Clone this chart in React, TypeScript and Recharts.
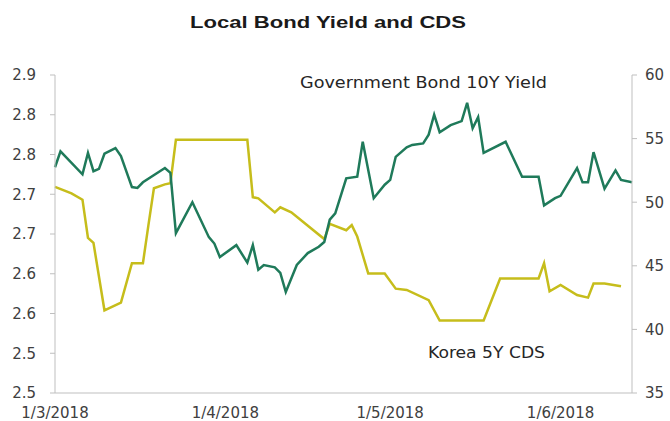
import React from 'react';
import { LineChart, Line, XAxis, YAxis } from 'recharts';

// Government bond 10Y yield (left axis, %)
const yieldDates = [
  '2018-03-01', '2018-03-02', '2018-03-06', '2018-03-07', '2018-03-08', '2018-03-09', '2018-03-10',
  '2018-03-12', '2018-03-13', '2018-03-15', '2018-03-16', '2018-03-17', '2018-03-21', '2018-03-22',
  '2018-03-23', '2018-03-26', '2018-03-29', '2018-03-30', '2018-03-31', '2018-04-03', '2018-04-05',
  '2018-04-06', '2018-04-07', '2018-04-08', '2018-04-10', '2018-04-11', '2018-04-12', '2018-04-14',
  '2018-04-16', '2018-04-18', '2018-04-19', '2018-04-20', '2018-04-21', '2018-04-23', '2018-04-25',
  '2018-04-26', '2018-04-28', '2018-04-30', '2018-05-01', '2018-05-02', '2018-05-04', '2018-05-05',
  '2018-05-07', '2018-05-08', '2018-05-09', '2018-05-10', '2018-05-12', '2018-05-14', '2018-05-15',
  '2018-05-16', '2018-05-17', '2018-05-18', '2018-05-22', '2018-05-25', '2018-05-28', '2018-05-29',
  '2018-05-31', '2018-06-01', '2018-06-04', '2018-06-05', '2018-06-06', '2018-06-07', '2018-06-09',
  '2018-06-11', '2018-06-12', '2018-06-14',
];
const yieldValues = [
  2.784, 2.804, 2.775, 2.802, 2.779, 2.782, 2.801,
  2.808, 2.798, 2.759, 2.758, 2.765, 2.783, 2.777,
  2.701, 2.74, 2.696, 2.688, 2.671, 2.686, 2.664,
  2.686, 2.655, 2.661, 2.658, 2.651, 2.627, 2.661,
  2.676, 2.684, 2.69, 2.718, 2.726, 2.77, 2.772,
  2.816, 2.745, 2.762, 2.768, 2.797, 2.809, 2.812,
  2.814, 2.825, 2.85, 2.828, 2.837, 2.842, 2.865,
  2.833, 2.847, 2.802, 2.816, 2.772, 2.772, 2.736,
  2.745, 2.748, 2.783, 2.765, 2.765, 2.803, 2.757,
  2.78, 2.768, 2.765,
];

// Korea 5Y CDS (right axis, bp)
const cdsDates = [
  '2018-03-01', '2018-03-04', '2018-03-06', '2018-03-07', '2018-03-08', '2018-03-10', '2018-03-13',
  '2018-03-15', '2018-03-17', '2018-03-18', '2018-03-19', '2018-03-21', '2018-03-22', '2018-03-23',
  '2018-04-05', '2018-04-06', '2018-04-07', '2018-04-10', '2018-04-11', '2018-04-13', '2018-04-19',
  '2018-04-20', '2018-04-23', '2018-04-24', '2018-04-25', '2018-04-27', '2018-04-30', '2018-05-02',
  '2018-05-04', '2018-05-08', '2018-05-10', '2018-05-18', '2018-05-21', '2018-05-28', '2018-05-29',
  '2018-05-30', '2018-06-01', '2018-06-04', '2018-06-06', '2018-06-07', '2018-06-09', '2018-06-12',
];
const cdsValues = [
  51.2, 50.7, 50.2, 47.2, 46.8, 41.5, 42.1,
  45.2, 45.2, 48.2, 51.1, 51.4, 51.5, 54.9,
  54.9, 50.4, 50.3, 49.2, 49.6, 49.2, 47.1,
  48.3, 47.8, 48.2, 47.3, 44.4, 44.4, 43.2,
  43.1, 42.3, 40.7, 40.7, 44.0, 44.0, 45.2,
  43.0, 43.5, 42.7, 42.5, 43.6, 43.6, 43.4,
];

const xTickDays = [0, 31, 61, 92];
const xTickLabels = ['1/3/2018', '1/4/2018', '1/5/2018', '1/6/2018'];
const leftTicks = [2.5, 2.55, 2.6, 2.65, 2.7, 2.75, 2.8, 2.85, 2.9];
const leftTickLabels = ['2.5', '2.5', '2.6', '2.6', '2.7', '2.7', '2.8', '2.8', '2.9'];
const rightTicks = [35, 40, 45, 50, 55, 60];

const START = Date.parse('2018-03-01');
const toDay = (d: string) => (Date.parse(d) - START) / 86400000;

const yieldData = yieldDates.map((d, i) => ({ day: toDay(d), value: yieldValues[i] }));
const cdsData = cdsDates.map((d, i) => ({ day: toDay(d), value: cdsValues[i] }));

const GREEN = '#1f7a5a';
const YELLOW = '#c6bd1b';
const AXIS = '#bfbfbf';
const tickStyle = { fontFamily: 'DejaVu Sans, sans-serif', fontSize: 15, fill: '#404040' };

const App = () => (
  <div style={{ position: 'absolute', left: 0, top: 0, width: 670, height: 421, background: '#fff' }}>
    <LineChart width={670} height={421} margin={{ top: 75, right: 8, bottom: 0, left: 10 }}>
      <XAxis
        type="number"
        dataKey="day"
        domain={[0, 105]}
        ticks={xTickDays}
        tickFormatter={(v, i) => xTickLabels[i]}
        axisLine={{ stroke: AXIS }}
        tickLine={false}
        tickSize={0}
        tickMargin={14}
        height={28}
        tick={tickStyle}
        interval={0}
      />
      <YAxis
        yAxisId="left"
        domain={[2.5, 2.9]}
        ticks={leftTicks}
        tickFormatter={(v, i) => leftTickLabels[i]}
        axisLine={{ stroke: AXIS }}
        tickLine={{ stroke: AXIS }}
        tickSize={5}
        tickMargin={14}
        width={45}
        tick={tickStyle}
        interval={0}
      />
      <YAxis
        yAxisId="right"
        orientation="right"
        domain={[35, 60]}
        ticks={rightTicks}
        axisLine={{ stroke: AXIS }}
        tickLine={{ stroke: AXIS }}
        tickSize={5}
        tickMargin={8}
        width={30}
        tick={{ ...tickStyle, textAnchor: 'start' }}
        interval={0}
      />
      <Line
        yAxisId="right"
        data={cdsData}
        dataKey="value"
        stroke={YELLOW}
        strokeWidth={2.5}
        dot={false}
        isAnimationActive={false}
      />
      <Line
        yAxisId="left"
        data={yieldData}
        dataKey="value"
        stroke={GREEN}
        strokeWidth={2.5}
        dot={false}
        isAnimationActive={false}
      />
    </LineChart>
    <svg width={670} height={421} style={{ position: 'absolute', left: 0, top: 0, pointerEvents: 'none' }}>
      <text
        x={190}
        y={28}
        fontFamily="Liberation Sans, Arial, sans-serif"
        fontWeight="bold"
        fontSize={17}
        fill="#1a1a1a"
        textLength={276}
        lengthAdjust="spacingAndGlyphs"
      >
        Local Bond Yield and CDS
      </text>
      <text
        x={300}
        y={88}
        fontFamily="DejaVu Sans, sans-serif"
        fontSize={16}
        fill="#262626"
        textLength={247}
        lengthAdjust="spacingAndGlyphs"
      >
        Government Bond 10Y Yield
      </text>
      <text
        x={428}
        y={358}
        fontFamily="DejaVu Sans, sans-serif"
        fontSize={16}
        fill="#262626"
        textLength={117}
        lengthAdjust="spacingAndGlyphs"
      >
        Korea 5Y CDS
      </text>
    </svg>
  </div>
);

export default App;
